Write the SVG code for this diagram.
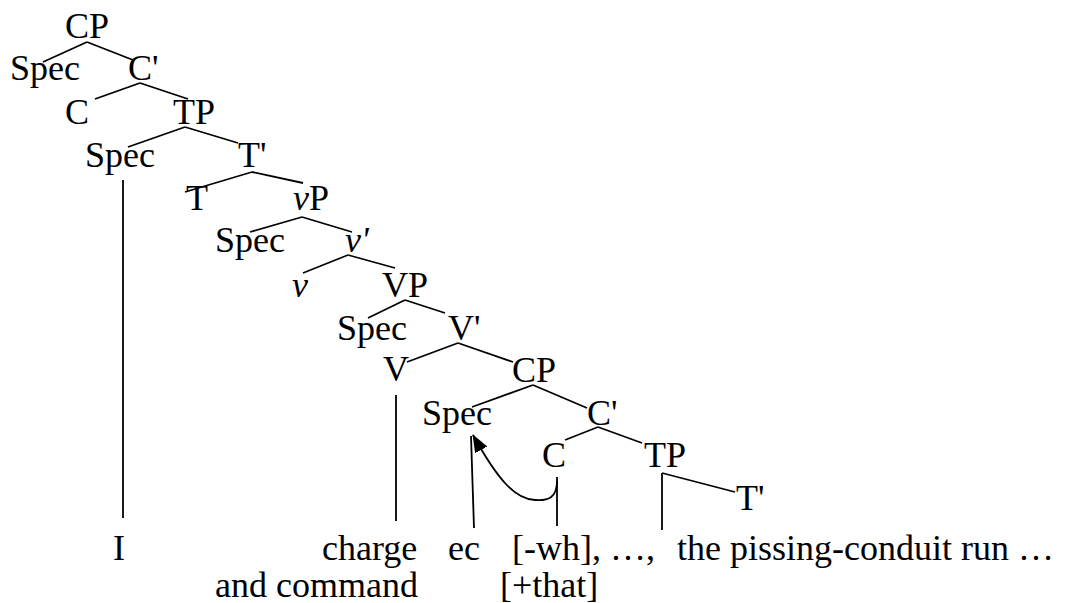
<svg xmlns="http://www.w3.org/2000/svg" width="1070" height="603" viewBox="0 0 1070 603">
  <style>
    .lbl text { font-size: 36px; fill: #000; }
    .it { font-style: italic; }
    #connectors line, #connectors path { stroke: #000; stroke-width: 1.8; fill: none; }
  </style>
  <defs>
    <marker id="tip" viewBox="0 0 18 14" refX="17" refY="7" markerWidth="18" markerHeight="14" markerUnits="userSpaceOnUse" orient="auto">
      <path d="M0,0 L18,7 L0,14 z" fill="#000"/>
    </marker>
  </defs>

  <rect width="1070" height="603" fill="#fff"/>

  <g class="lbl" font-family="'Liberation Serif', 'DejaVu Serif', 'Times New Roman', serif">
    <!-- tree nodes -->
    <g id="cp1"><text x="65" y="38">CP</text></g>
    <g id="spec1"><text x="10" y="80">Spec</text></g>
    <g id="cbar1"><text x="128" y="80">C'</text></g>
    <g id="c1"><text x="65" y="124">C</text></g>
    <g id="tp1"><text x="173" y="124">TP</text></g>
    <g id="spec2"><text x="85" y="167">Spec</text></g>
    <g id="tbar1"><text x="238" y="167">T'</text></g>
    <g id="t1"><text x="186" y="210">T</text></g>
    <g id="vp-little"><text x="293" y="210"><tspan class="it">v</tspan>P</text></g>
    <g id="spec3"><text x="215" y="252">Spec</text></g>
    <g id="vbar-little"><text x="345" y="252" class="it">v'</text></g>
    <g id="v-little"><text x="292" y="297" class="it">v</text></g>
    <g id="vp"><text x="382" y="297">VP</text></g>
    <g id="spec4"><text x="337" y="340">Spec</text></g>
    <g id="vbar"><text x="448" y="340">V'</text></g>
    <g id="v"><text x="383" y="381">V</text></g>
    <g id="cp2"><text x="512" y="382">CP</text></g>
    <g id="spec5"><text x="422" y="425">Spec</text></g>
    <g id="cbar2"><text x="587" y="425">C'</text></g>
    <g id="c2"><text x="542" y="467">C</text></g>
    <g id="tp2"><text x="644" y="467">TP</text></g>
    <g id="tbar2"><text x="736" y="510">T'</text></g>

    <!-- terminal words -->
    <g id="word-i"><text x="113" y="560">I</text></g>
    <g id="word-charge"><text x="322" y="560">charge</text><text x="215" y="597">and command</text></g>
    <g id="word-ec"><text x="448" y="560">ec</text></g>
    <g id="word-wh"><text x="512" y="560">[-wh], …,</text><text x="500" y="597">[+that]</text></g>
    <g id="word-run"><text x="677" y="560">the pissing-conduit run …</text></g>
  </g>

  <!-- branches -->
  <g id="connectors">
    <line x1="87" y1="42" x2="43" y2="62"/>
    <line x1="87" y1="42" x2="133" y2="60"/>
    <line x1="140" y1="83" x2="95" y2="99"/>
    <line x1="140" y1="83" x2="188" y2="99"/>
    <line x1="185" y1="127" x2="128" y2="147"/>
    <line x1="185" y1="127" x2="238" y2="143"/>
    <line x1="252" y1="172" x2="185" y2="192"/>
    <line x1="252" y1="172" x2="303" y2="183"/>
    <line x1="302" y1="217" x2="250" y2="232"/>
    <line x1="302" y1="217" x2="352" y2="232"/>
    <line x1="348" y1="255" x2="303" y2="273"/>
    <line x1="348" y1="255" x2="395" y2="268"/>
    <line x1="405" y1="300" x2="368" y2="318"/>
    <line x1="405" y1="300" x2="445" y2="313"/>
    <line x1="458" y1="343" x2="407" y2="362"/>
    <line x1="458" y1="343" x2="513" y2="362"/>
    <line x1="533" y1="385" x2="472" y2="407"/>
    <line x1="533" y1="385" x2="587" y2="408"/>
    <line x1="598" y1="427" x2="565" y2="440"/>
    <line x1="598" y1="427" x2="642" y2="443"/>
    <line x1="662" y1="473" x2="662" y2="530"/>
    <line x1="662" y1="473" x2="735" y2="492"/>
    <line x1="123" y1="180" x2="123" y2="518"/>
    <line x1="396" y1="395" x2="396" y2="521"/>
    <line x1="471" y1="436" x2="474" y2="528"/>
    <line x1="557" y1="477" x2="557" y2="526"/>
    <!-- movement arrow from C up to Spec -->
    <path d="M557,481 C557,498 548,501 535,500 C515,499 498,480 473,435" marker-end="url(#tip)"/>
  </g>
</svg>
